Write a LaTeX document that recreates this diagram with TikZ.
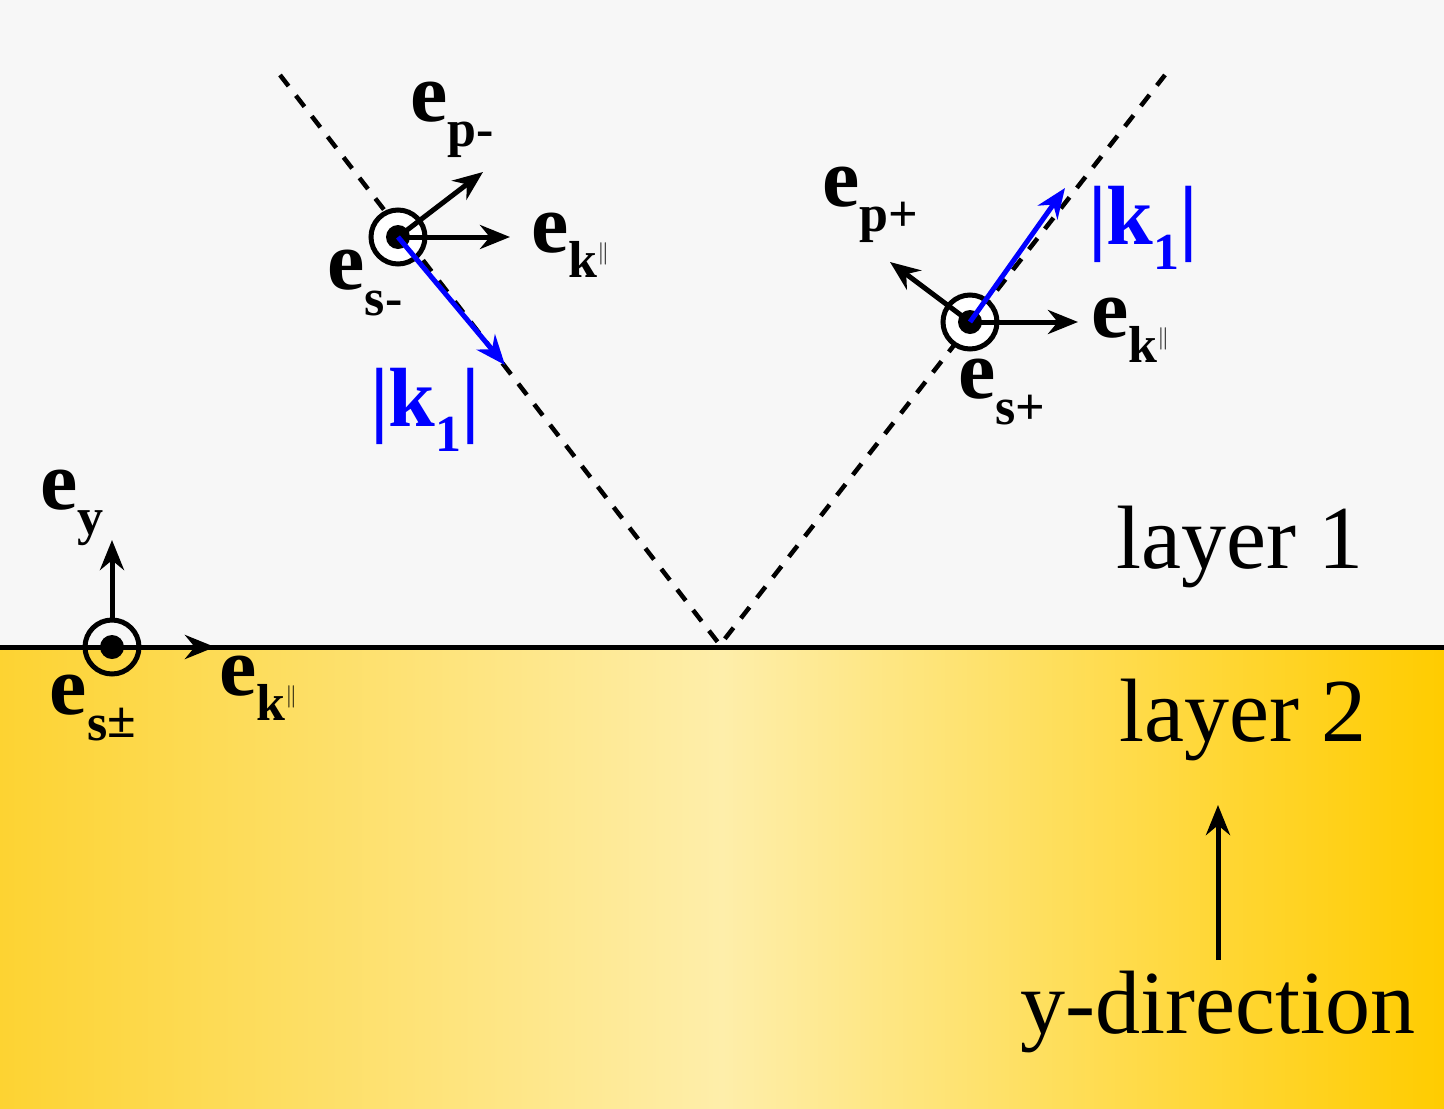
\documentclass[tikz,border=0pt]{standalone}
\usepackage{fontspec}
\setmainfont{Liberation Serif}
\usetikzlibrary{arrows.meta}
\newcommand\evec[1]{\textbf{e}\raisebox{-0.3em}{\fontsize{52}{52}\selectfont\textbf{#1}}}
\newcommand\kpar{k\raisebox{0.35em}{\scalebox{0.9}{\fontsize{30}{30}\selectfont$\|$}}}
\tikzset{
  vec/.style={line width=5pt,-{Stealth[length=30pt,width=24pt]}},
  bvec/.style={vec,blue},
  lab/.style={font=\fontsize{84}{84}\selectfont,inner sep=0pt},
  big/.style={font=\fontsize{90}{90}\selectfont,inner sep=0pt},
  ring/.style={circle,draw,line width=5pt,minimum size=54pt,inner sep=0pt},
  dotc/.style={circle,fill,minimum size=24pt,inner sep=0pt},
  rayline/.style={line width=4.5pt,dash pattern=on 14pt off 12pt}
}
\begin{document}
\begin{tikzpicture}[x=1pt,y=-1pt]
\useasboundingbox (0,0) rectangle (1444,1109);
\fill[black!3] (0,0) rectangle (1444,647);
\shade[left color={rgb,255:red,253;green,211;blue,50},right color={rgb,255:red,255;green,204;blue,0},middle color={rgb,255:red,254;green,238;blue,170}] (0,647) rectangle (1444,1109);
% dashed rays
\coordinate (s1) at (280,75); \coordinate (m) at (720,645); \coordinate (s2) at (1165,75);
\draw[rayline] (s1) -- (m) -- (s2);
\draw[line width=5pt] (0,647) -- (1444,647);
% left point
\node[ring,fill=white] (L) at (398,237) {}; \node[dotc] at (L) {};
\coordinate (Lk) at (510,237); \coordinate (Lp) at (483,172); \coordinate (Lb) at (505,365);
\draw[vec] (L.center) -- (Lk);
\draw[vec] (L.center) -- (Lp);
\draw[bvec] (L.center) -- (Lb);
\node[lab] (tLp) at (452,120) {\evec{p-}};
\node[lab] (tLk) at (570,245) {\evec{\kpar}};
\node[lab] (tLs) at (365,283) {\evec{s-}};
\node[lab,blue] (tLb) at (425,410) {\textbf{|k\raisebox{-0.3em}{\fontsize{52}{52}\selectfont 1}|}};
% right point
\node[ring,fill=white] (R) at (970,322) {}; \node[dotc] at (R) {};
\coordinate (Rk) at (1078,322); \coordinate (Rp) at (890,262); \coordinate (Rb) at (1065,188);
\draw[vec] (R.center) -- (Rk);
\draw[vec] (R.center) -- (Rp);
\draw[bvec] (R.center) -- (Rb);
\node[lab] (tRp) at (870,205) {\evec{p+}};
\node[lab] (tRk) at (1130,330) {\evec{\kpar}};
\node[lab] (tRs) at (1002,392) {\evec{s+}};
\node[lab,blue] (tRb) at (1143,228) {\textbf{|k\raisebox{-0.3em}{\fontsize{52}{52}\selectfont 1}|}};
% bottom-left
\node[ring] (B) at (112,647) {}; \node[dotc] at (B) {};
\coordinate (By) at (112,540); \coordinate (Bk) at (215,647);
\draw[vec] (B.north) -- (By);
\draw[vec] (B.east) -- (Bk);
\node[lab] (tBy) at (72,508) {\evec{y}};
\node[lab] (tBk) at (258,688) {\evec{\kpar}};
\node[lab] (tBs) at (93,708) {\evec{s\raisebox{0.05em}{±}}};
% layers
\node[big] (l1) at (1240,547) {layer 1};
\node[big] (l2) at (1243,720) {layer 2};
\coordinate (ya) at (1218,960); \coordinate (yb) at (1218,805);
\draw[vec] (ya) -- (yb);
\node[big] (yd) at (1218,1012) {y-direction};
\end{tikzpicture}
\end{document}
